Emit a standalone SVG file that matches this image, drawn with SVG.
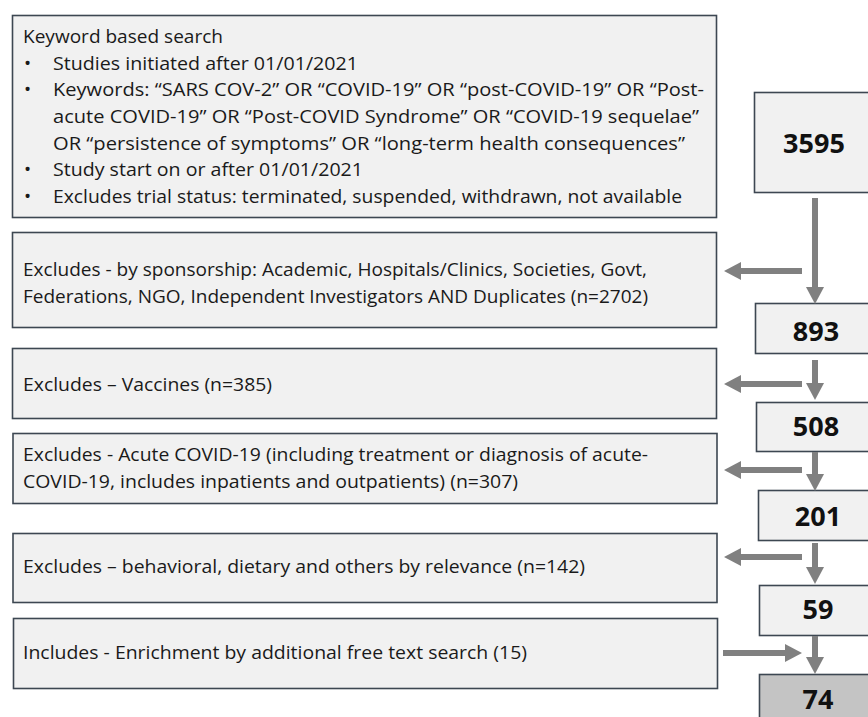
<svg xmlns="http://www.w3.org/2000/svg" width="868" height="717" viewBox="0 0 868 717">
<style>
.box{fill:#f1f1f1;stroke:#3d4752;stroke-width:1.6}
.final{fill:#c4c4c4;stroke:#3d4752;stroke-width:1.6}
.t{font-family:"Open Sans","Liberation Sans",sans-serif;font-size:19px;fill:#1a1a1a}
.n{font-family:"Open Sans","Liberation Sans",sans-serif;font-size:27px;font-weight:bold;fill:#111;text-anchor:middle}
.arr{stroke:#808080;stroke-width:6;fill:none;marker-end:url(#head)}
</style>
<defs>
<marker id="head" markerUnits="userSpaceOnUse" markerWidth="18" markerHeight="20" refX="0" refY="10" orient="auto">
<path d="M0,1 L17,10 L0,19 Z" fill="#808080"/>
</marker>
</defs>
<rect width="868" height="717" fill="#ffffff"/>

<g id="search">
<rect class="box" x="12.5" y="15.5" width="704" height="202"/>
<text class="t" x="23" y="43" textLength="200" lengthAdjust="spacingAndGlyphs">Keyword based search</text>
<text class="t" x="24" y="70">•</text>
<text class="t" x="53" y="70" textLength="305" lengthAdjust="spacingAndGlyphs">Studies initiated after 01/01/2021</text>
<text class="t" x="24" y="96">•</text>
<text class="t" x="53" y="96" textLength="651" lengthAdjust="spacingAndGlyphs">Keywords: “SARS COV-2” OR “COVID-19” OR “post-COVID-19” OR “Post-</text>
<text class="t" x="53" y="123" textLength="646" lengthAdjust="spacingAndGlyphs">acute COVID-19” OR “Post-COVID Syndrome” OR “COVID-19 sequelae”</text>
<text class="t" x="53" y="150" textLength="632" lengthAdjust="spacingAndGlyphs">OR “persistence of symptoms” OR “long-term health consequences”</text>
<text class="t" x="24" y="176">•</text>
<text class="t" x="53" y="176" textLength="310" lengthAdjust="spacingAndGlyphs">Study start on or after 01/01/2021</text>
<text class="t" x="24" y="203">•</text>
<text class="t" x="53" y="203" textLength="629" lengthAdjust="spacingAndGlyphs">Excludes trial status: terminated, suspended, withdrawn, not available</text>
</g>

<g id="ex-sponsorship">
<rect class="box" x="12.5" y="232.5" width="704" height="95"/>
<text class="t" x="23" y="276" textLength="624" lengthAdjust="spacingAndGlyphs">Excludes - by sponsorship: Academic, Hospitals/Clinics, Societies, Govt,</text>
<text class="t" x="23" y="303" textLength="625" lengthAdjust="spacingAndGlyphs">Federations, NGO, Independent Investigators AND Duplicates (n=2702)</text>
</g>

<g id="ex-vaccines">
<rect class="box" x="12.5" y="348.5" width="704" height="70"/>
<text class="t" x="23" y="391" textLength="249" lengthAdjust="spacingAndGlyphs">Excludes – Vaccines (n=385)</text>
</g>

<g id="ex-acute">
<rect class="box" x="13" y="433.5" width="704" height="70"/>
<text class="t" x="23" y="461" textLength="625" lengthAdjust="spacingAndGlyphs">Excludes - Acute COVID-19 (including treatment or diagnosis of acute-</text>
<text class="t" x="23" y="488" textLength="495" lengthAdjust="spacingAndGlyphs">COVID-19, includes inpatients and outpatients) (n=307)</text>
</g>

<g id="ex-behavioral">
<rect class="box" x="13" y="533.5" width="704" height="69"/>
<text class="t" x="23" y="573" textLength="562" lengthAdjust="spacingAndGlyphs">Excludes – behavioral, dietary and others by relevance (n=142)</text>
</g>

<g id="in-enrichment">
<rect class="box" x="13.5" y="618.5" width="704" height="70"/>
<text class="t" x="23" y="659" textLength="504" lengthAdjust="spacingAndGlyphs">Includes - Enrichment by additional free text search (15)</text>
</g>

<g id="n3595">
<rect class="box" x="754.5" y="92.5" width="120" height="100"/>
<text class="n" x="814" y="153">3595</text>
</g>
<g id="n893">
<rect class="box" x="755.5" y="303.5" width="120" height="50"/>
<text class="n" x="816" y="341">893</text>
</g>
<g id="n508">
<rect class="box" x="756.5" y="402.5" width="120" height="49"/>
<text class="n" x="816" y="436">508</text>
</g>
<g id="n201">
<rect class="box" x="758.5" y="490.5" width="120" height="50"/>
<text class="n" x="818" y="526">201</text>
</g>
<g id="n59">
<rect class="box" x="759.5" y="585.5" width="120" height="50"/>
<text class="n" x="818" y="619">59</text>
</g>
<g id="n74">
<rect class="final" x="759.5" y="674.5" width="120" height="60"/>
<text class="n" x="818" y="709">74</text>
</g>

<g id="connectors">
<line class="arr" x1="815" y1="198" x2="815" y2="287"/>
<line class="arr" x1="815" y1="360" x2="815" y2="383"/>
<line class="arr" x1="815" y1="452" x2="815" y2="474"/>
<line class="arr" x1="815" y1="543" x2="815" y2="567"/>
<line class="arr" x1="815" y1="636" x2="815" y2="657"/>
<line class="arr" x1="802" y1="271" x2="741" y2="271"/>
<line class="arr" x1="802" y1="384" x2="741" y2="384"/>
<line class="arr" x1="802" y1="470" x2="741" y2="470"/>
<line class="arr" x1="802" y1="557" x2="741" y2="557"/>
<line class="arr" x1="723" y1="653" x2="785" y2="653"/>
</g>
</svg>
